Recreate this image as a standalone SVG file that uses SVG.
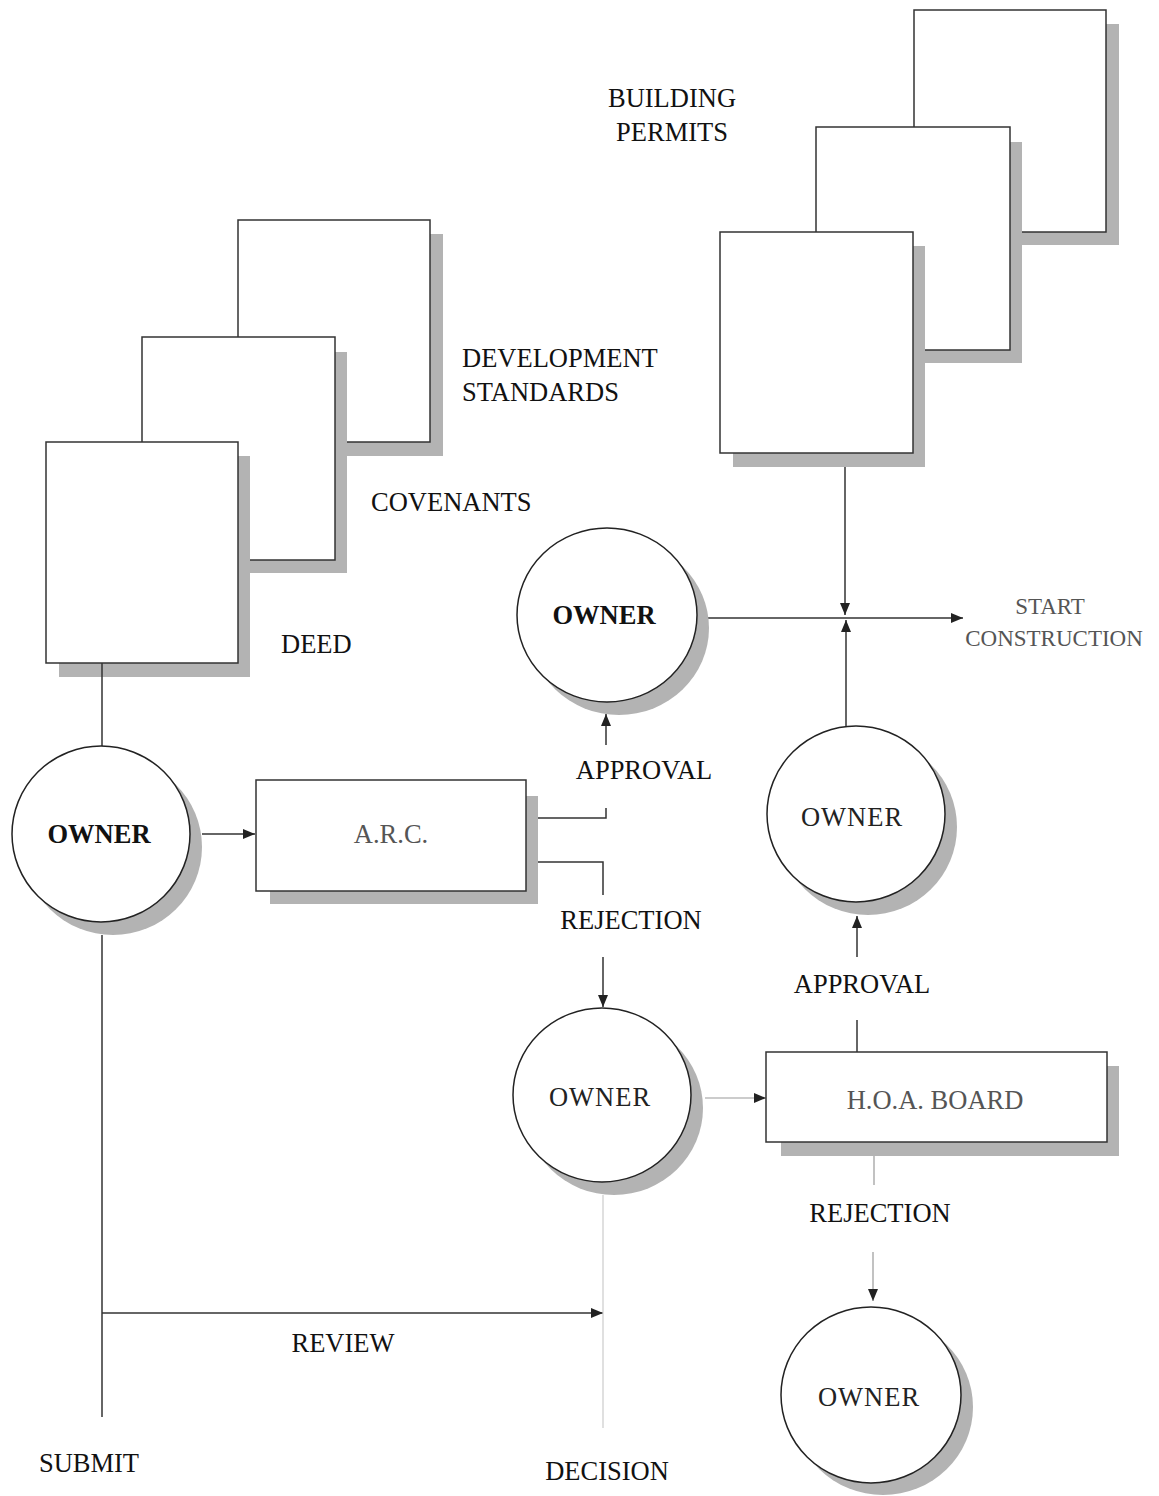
<svg xmlns="http://www.w3.org/2000/svg" width="1159" height="1496" viewBox="0 0 1159 1496">
<defs>
<style>
.bg{fill:#ffffff}
.doc{fill:#ffffff;stroke:#333;stroke-width:1.5}
.shadow{fill:#b3b3b3}
.circ{fill:#ffffff;stroke:#222;stroke-width:1.5}
.box{fill:#ffffff;stroke:#333;stroke-width:1.5}
.t{font-family:"Liberation Serif","Times New Roman",serif;font-size:26.5px;fill:#111}
.tb{font-family:"Liberation Serif","Times New Roman",serif;font-size:26.5px;font-weight:bold;fill:#111}
.tr{font-family:"Liberation Serif","Times New Roman",serif;font-size:26.5px;fill:#222;letter-spacing:1px}
.tg{font-family:"Liberation Serif","Times New Roman",serif;font-size:26.5px;fill:#555}
.ts{font-family:"Liberation Serif","Times New Roman",serif;font-size:23px;fill:#555}
.ln{fill:none;stroke:#333;stroke-width:1.5}
.lt{fill:none;stroke:#999;stroke-width:1.2}
.lx{fill:none;stroke:#ccc;stroke-width:1.2}
</style>
<marker id="arr" viewBox="0 0 12 10" refX="12" refY="5" markerWidth="12" markerHeight="10" markerUnits="userSpaceOnUse" orient="auto">
<path d="M0,0 L12,5 L0,10 Z" fill="#222"/>
</marker>
</defs>
<rect class="bg" x="0" y="0" width="1159" height="1496"/>

<g id="doc-development-standards">
<rect class="shadow" x="250" y="234" width="193" height="222"/>
<rect class="doc" x="238" y="220" width="192" height="222"/>
</g>
<g id="doc-covenants">
<rect class="shadow" x="155" y="352" width="192" height="221"/>
<rect class="doc" x="142" y="337" width="193" height="223"/>
</g>
<g id="doc-deed">
<rect class="shadow" x="59" y="456" width="191" height="221"/>
<rect class="doc" x="46" y="442" width="192" height="221"/>
</g>
<g id="labels-docs-left">
<text class="t" x="462" y="367">DEVELOPMENT</text>
<text class="t" x="462" y="401">STANDARDS</text>
<text class="t" x="371" y="511">COVENANTS</text>
<text class="t" x="281" y="653">DEED</text>
</g>

<g id="doc-permit-3">
<rect class="shadow" x="927" y="24" width="192" height="221"/>
<rect class="doc" x="914" y="10" width="192" height="222"/>
</g>
<g id="doc-permit-2">
<rect class="shadow" x="829" y="142" width="193" height="221"/>
<rect class="doc" x="816" y="127" width="194" height="223"/>
</g>
<g id="doc-permit-1">
<rect class="shadow" x="733" y="246" width="192" height="221"/>
<rect class="doc" x="720" y="232" width="193" height="221"/>
</g>
<g id="labels-building-permits">
<text class="t" x="672" y="107" text-anchor="middle">BUILDING</text>
<text class="t" x="672" y="141" text-anchor="middle">PERMITS</text>
</g>

<g id="connectors">
<path class="ln" d="M102,663 V746"/>
<path class="ln" d="M202,834 H255" marker-end="url(#arr)"/>
<path class="ln" d="M538,818 H606 V808"/>
<path class="ln" d="M606,745 V714" marker-end="url(#arr)"/>
<path class="ln" d="M538,862 H603 V895"/>
<path class="ln" d="M603,957 V1007" marker-end="url(#arr)"/>
<path class="ln" d="M102,935 V1417"/>
<path class="ln" d="M102,1313 H603" marker-end="url(#arr)"/>
<path class="lx" d="M603,1195 V1428"/>
<path class="lt" d="M705,1098 H766" marker-end="url(#arr)"/>
<path class="ln" d="M857,1052 V1020"/>
<path class="ln" d="M857,957 V916" marker-end="url(#arr)"/>
<path class="ln" d="M846,727 V620" marker-end="url(#arr)"/>
<path class="ln" d="M845,467 V615" marker-end="url(#arr)"/>
<path class="ln" d="M697,618 H963" marker-end="url(#arr)"/>
<path class="lt" d="M874,1156 V1185"/>
<path class="lt" d="M873,1252 V1301" marker-end="url(#arr)"/>
</g>

<g id="owner-submit">
<ellipse class="shadow" cx="113" cy="847" rx="89" ry="88"/>
<ellipse class="circ" cx="101" cy="834" rx="89" ry="88"/>
<text class="tb" x="99" y="843" text-anchor="middle">OWNER</text>
</g>
<g id="arc">
<rect class="shadow" x="270" y="796" width="268" height="108"/>
<rect class="box" x="256" y="780" width="270" height="111"/>
<text class="tg" x="391" y="843" text-anchor="middle">A.R.C.</text>
</g>
<g id="owner-approved-arc">
<ellipse class="shadow" cx="619" cy="628" rx="90" ry="87"/>
<ellipse class="circ" cx="607" cy="615" rx="90" ry="87"/>
<text class="tb" x="604" y="624" text-anchor="middle">OWNER</text>
</g>
<g id="owner-rejected-arc">
<ellipse class="shadow" cx="614" cy="1108" rx="89" ry="87"/>
<ellipse class="circ" cx="602" cy="1095" rx="89" ry="87"/>
<text class="tr" x="600" y="1106" text-anchor="middle">OWNER</text>
</g>
<g id="hoa-board">
<rect class="shadow" x="781" y="1066" width="338" height="90"/>
<rect class="box" x="766" y="1052" width="341" height="90"/>
<text class="tg" x="935" y="1109" text-anchor="middle">H.O.A. BOARD</text>
</g>
<g id="owner-approved-hoa">
<ellipse class="shadow" cx="868" cy="827" rx="89" ry="88"/>
<ellipse class="circ" cx="856" cy="814" rx="89" ry="88"/>
<text class="tr" x="852" y="826" text-anchor="middle">OWNER</text>
</g>
<g id="owner-rejected-hoa">
<ellipse class="shadow" cx="883" cy="1407" rx="90" ry="88"/>
<ellipse class="circ" cx="871" cy="1395" rx="90" ry="88"/>
<text class="tr" x="869" y="1406" text-anchor="middle">OWNER</text>
</g>

<g id="labels">
<text class="ts" x="1050" y="614" text-anchor="middle">START</text>
<text class="ts" x="1054" y="646" text-anchor="middle">CONSTRUCTION</text>
<text class="t" x="644" y="779" text-anchor="middle">APPROVAL</text>
<text class="t" x="631" y="929" text-anchor="middle">REJECTION</text>
<text class="t" x="862" y="993" text-anchor="middle">APPROVAL</text>
<text class="t" x="880" y="1222" text-anchor="middle">REJECTION</text>
<text class="t" x="343" y="1352" text-anchor="middle">REVIEW</text>
<text class="t" x="89" y="1472" text-anchor="middle">SUBMIT</text>
<text class="t" x="607" y="1480" text-anchor="middle">DECISION</text>
</g>
</svg>
